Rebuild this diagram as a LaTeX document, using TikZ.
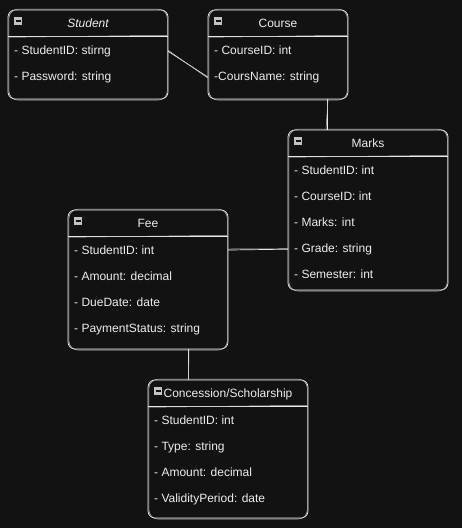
\documentclass[tikz,border=0pt]{standalone}
\usepackage{fontspec}
\setmainfont{Liberation Sans}
\usetikzlibrary{fit}
\definecolor{bg}{HTML}{121212}
\definecolor{ink}{HTML}{EDEDED}
\definecolor{icongray}{HTML}{C4C4C4}
\tikzset{
  sk/.style={draw=ink, line width=0.7pt, rounded corners=7pt},
  sktwo/.style={draw=ink!80!bg, line width=0.55pt, rounded corners=9pt},
  rowtxt/.style={anchor=base west, text=ink, font=\fontsize{12}{14}\selectfont, inner sep=0pt},
  titletxt/.style={anchor=base, text=ink, font=\fontsize{12}{14}\selectfont, inner sep=0pt},
  conn/.style={draw=ink, line width=0.7pt},
  conntwo/.style={draw=ink!80!bg, line width=0.5pt},
  entbox/.style={draw=none, inner sep=0pt, outer sep=0pt},
}
\newcommand\entity[7]{%
  \path[sk] (#2,#3) rectangle (#4,#5);
  \path[sktwo] ({#2+0.9},{#3-0.8}) rectangle ({#4-0.7},{#5+1});
  \draw[ink, line width=0.7pt] (#2,{#3+26}) -- (#4,{#3+26});
  \draw[ink!80!bg, line width=0.5pt] ({#2+1},{#3+27.2}) -- ({#4-1},{#3+25.3});
  \node[entbox, fit={(#2,#3) (#4,#5)}] (#1) {};
  \fill[icongray] ({#2+6},{#3+7}) rectangle ({#2+14},{#3+15});
  \draw[bg, line width=1.2pt] ({#2+7.5},{#3+11}) -- ({#2+12.5},{#3+11});
  \node[titletxt] (#1-t) at ({(#2+#4)/2},{#3+17.5}) {#6};
  \foreach \r [count=\i] in {#7} {
    \node[rowtxt] (#1-\i) at ({#2+6},{#3+44.3+26*(\i-1)}) {\r};
  }
}
\begin{document}
\begin{tikzpicture}[x=1pt,y=-1pt]
  \fill[bg] (0,0) rectangle (462,528);
  \useasboundingbox (0,0) rectangle (462,528);

  \entity{student}{8}{10}{168}{99}{\itshape Student}{- StudentID: stirng, - Password: string}
  \entity{course}{208}{10}{348}{99}{Course}{- CourseID: int, -CoursName: string}
  \entity{marks}{288}{130}{448}{290}{Marks}{- StudentID: int, - CourseID: int, - Marks: int, - Grade: string, - Semester: int}
  \entity{fee}{68}{210}{228}{349}{Fee}{- StudentID: int, - Amount: decimal, - DueDate: date, - PaymentStatus: string}
  \entity{conc}{148}{380}{308}{518}{Concession/Scholarship}{- StudentID: int, - Type: string, - Amount: decimal, - ValidityPeriod: date}

  % connectors
  \draw[conn] (student-1 -| student.east) -- (course-2 -| course.west);
  \draw[conntwo] ([yshift=1pt]student-1 -| student.east) -- ([yshift=-1pt]course-2 -| course.west);

  \draw[conn] ([xshift=-21pt]course.south east) -- ([xshift=-21pt]course.south east |- marks.north);
  \draw[conntwo] ([xshift=-20pt]course.south east) -- ([xshift=-22pt]course.south east |- marks.north);

  \draw[conn] (fee-1 -| fee.east) -- (marks-4 -| marks.west);
  \draw[conntwo] ([yshift=1pt]fee-1 -| fee.east) -- ([yshift=0.5pt]marks-4 -| marks.west);

  \draw[conn] ([xshift=40pt]fee.south) -- ([xshift=-40pt]conc.north);
  \draw[conntwo] ([xshift=41pt]fee.south) -- ([xshift=-39.5pt]conc.north);
\end{tikzpicture}
\end{document}
